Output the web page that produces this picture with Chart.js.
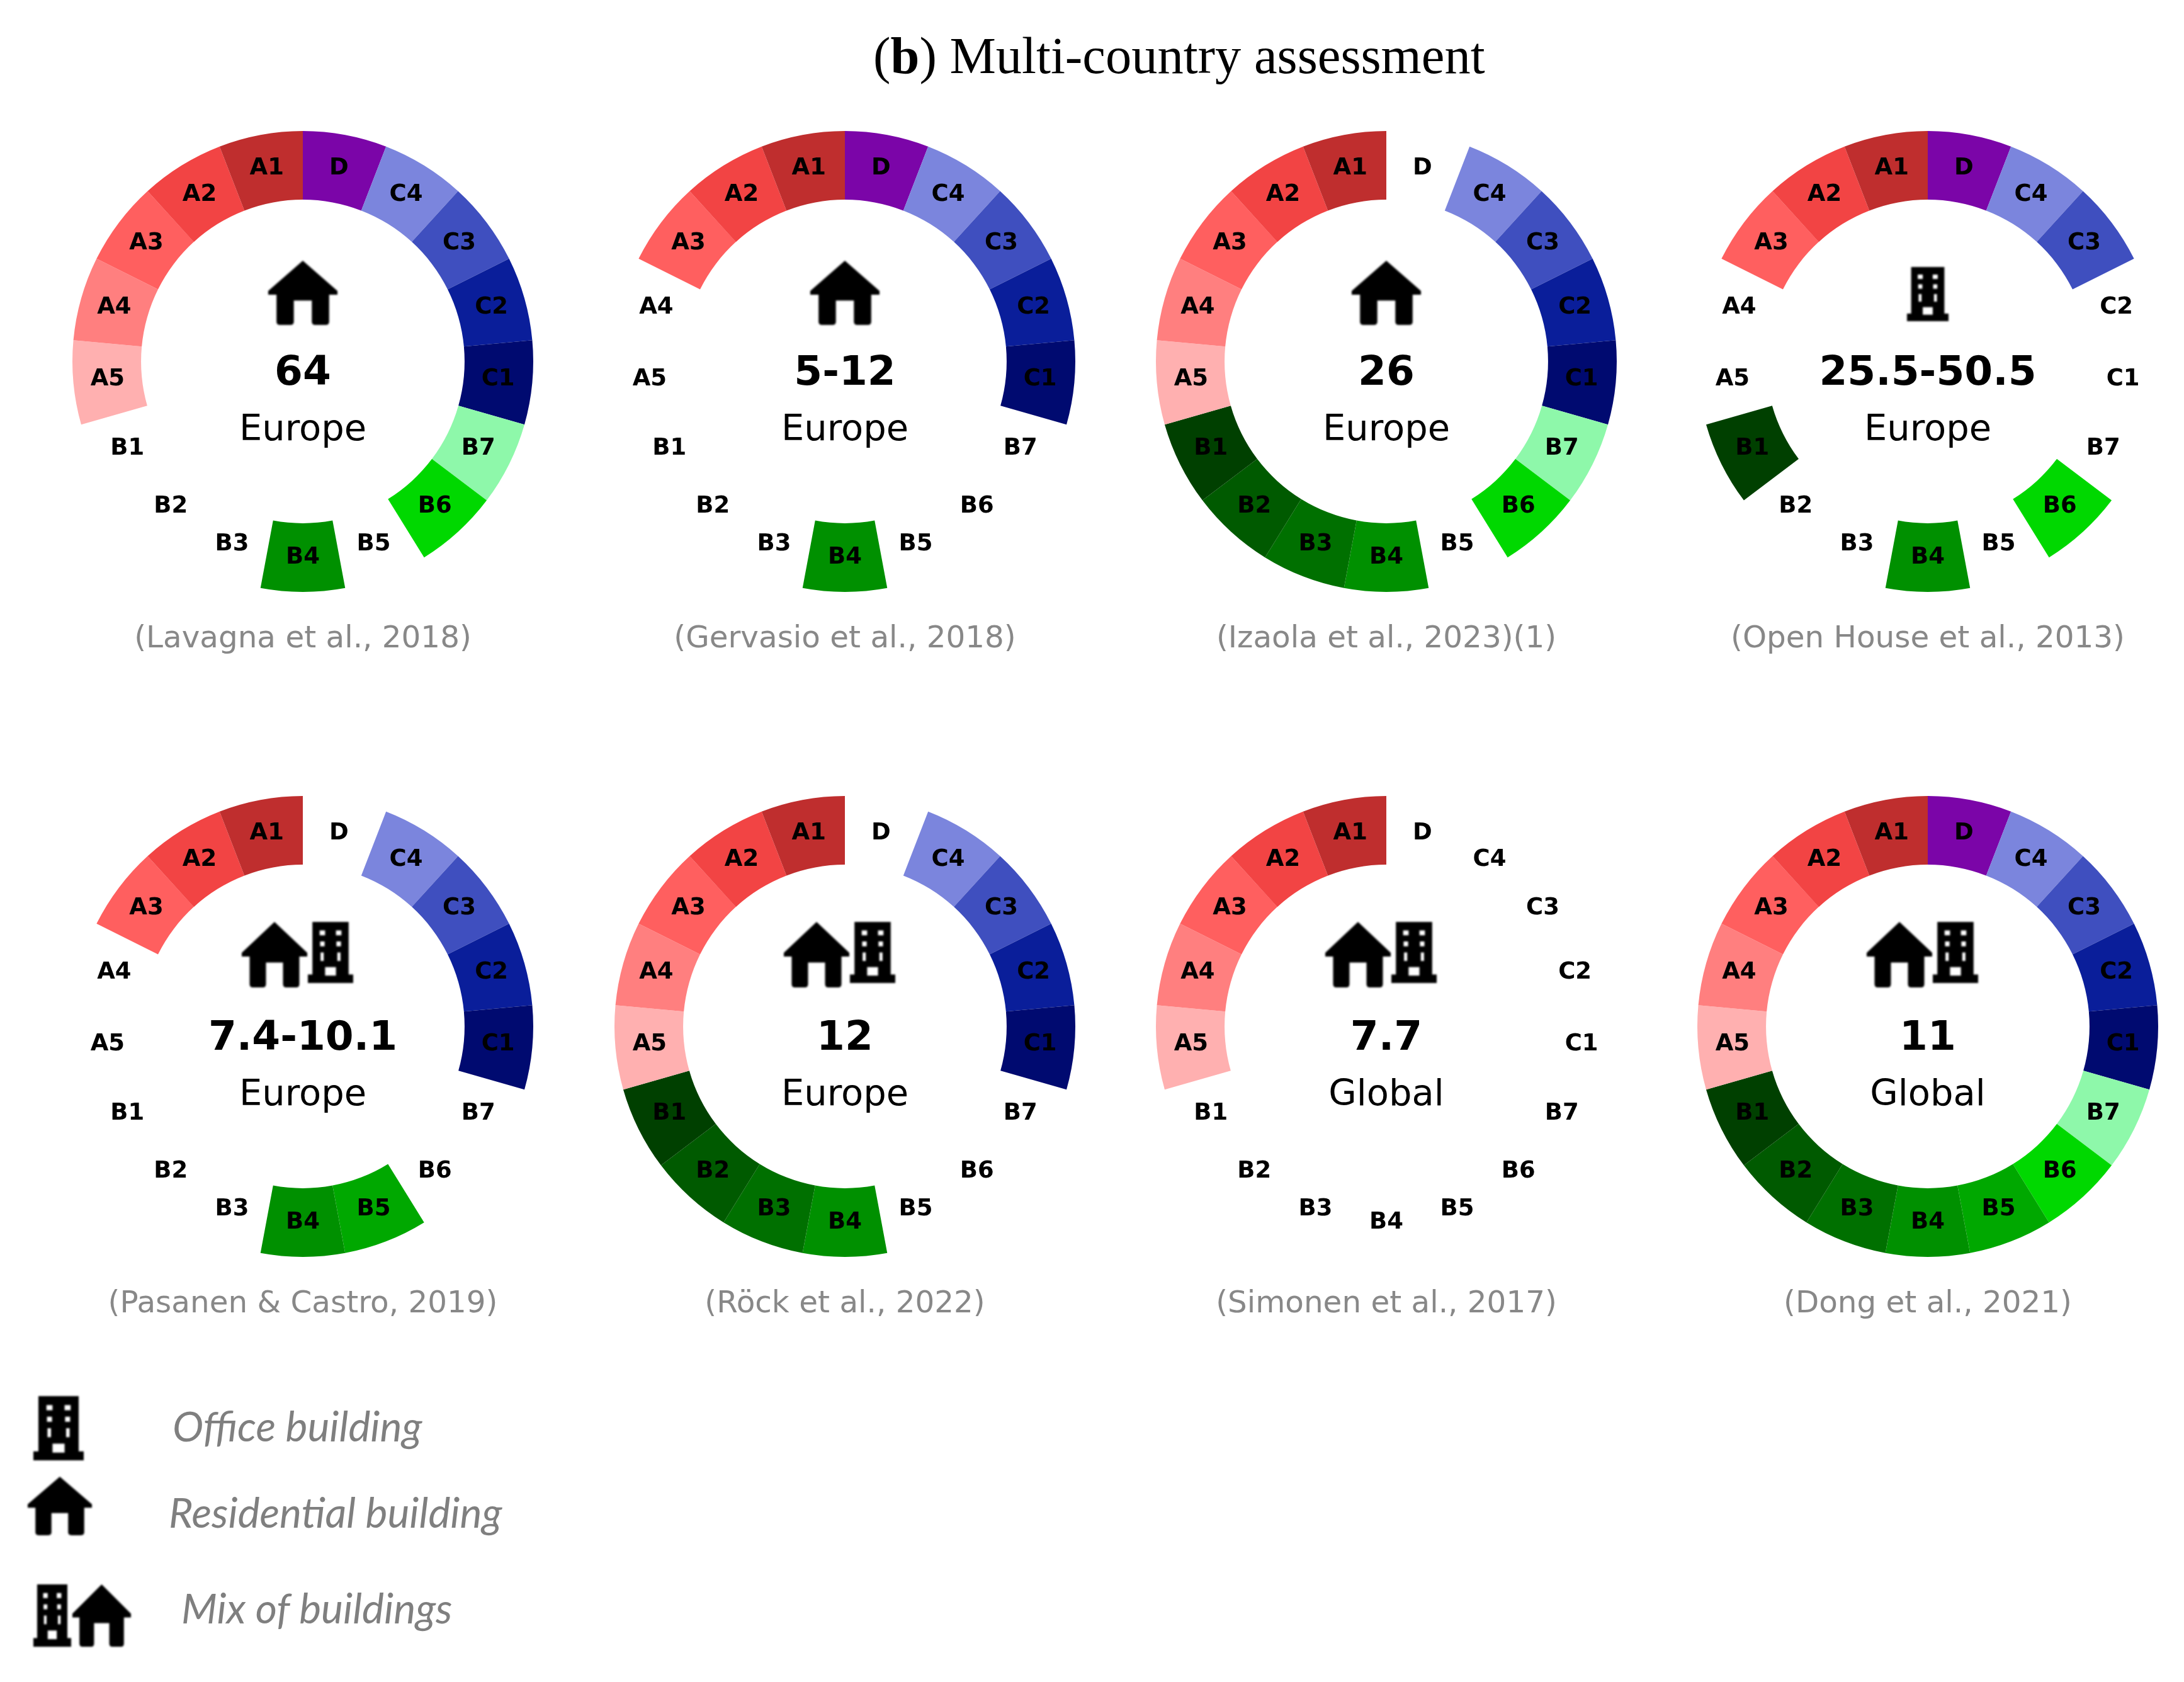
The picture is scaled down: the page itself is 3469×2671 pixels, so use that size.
<!DOCTYPE html>
<html><head><meta charset="utf-8">
<script src="https://cdn.jsdelivr.net/npm/chart.js@4"></script>
<style>
html,body{margin:0;padding:0;background:#fff;width:3469px;height:2671px;overflow:hidden}
#page{position:relative;width:3469px;height:2671px}
canvas{position:absolute}
.t{position:absolute;white-space:nowrap}
#title{left:1387px;top:40px;font:82.5px "Liberation Serif",serif;color:#000}
.lg{font:italic 66px Lato,sans-serif;color:#7f7f7f}
svg{position:absolute;filter:blur(1.6px)}
</style></head><body><div id="page">
<div class="t" id="title">(<b>b</b>) Multi-country assessment</div>
<div class="t lg" style="left:274px;top:2224px">Office building</div>
<div class="t lg" style="left:268px;top:2361px">Residential building</div>
<div class="t lg" style="left:288px;top:2513px">Mix of buildings</div>
</div>
<script>
// Life-cycle stages, clockwise from twelve o'clock
const stages = ['D','C4','C3','C2','C1','B7','B6','B5','B4','B3','B2','B1','A5','A4','A3','A2','A1'];
const stageColors = ['#7b05a8','#7b85dd','#3f4fbf','#0a1e9a','#000a70','#8ef8aa','#00d800','#00a800','#009000','#007000','#005a00','#004000','#ffb0b0','#ff7f7f','#ff5f5f','#f24444','#bf2e2e'];
const stageShare = [1,1,1,1,1,1,1,1,1,1,1,1,1,1,1,1,1];

const studyNames = ['(Lavagna et al., 2018)','(Gervasio et al., 2018)','(Izaola et al., 2023)(1)','(Open House et al., 2013)','(Pasanen & Castro, 2019)','(Röck et al., 2022)','(Simonen et al., 2017)','(Dong et al., 2021)'];
const studyValues = ['64','5-12','26','25.5-50.5','7.4-10.1','12','7.7','11'];
const studyRegions = ['Europe','Europe','Europe','Europe','Europe','Europe','Global','Global'];
const studyBuildings = ['house','house','house','office','mix','mix','mix','mix'];

const coveredLavagna = ['D','C4','C3','C2','C1','B7','B6','B4','A5','A4','A3','A2','A1'];
const coveredGervasio = ['D','C4','C3','C2','C1','B4','A3','A2','A1'];
const coveredIzaola = ['C4','C3','C2','C1','B7','B6','B4','B3','B2','B1','A5','A4','A3','A2','A1'];
const coveredOpenHouse = ['D','C4','C3','B6','B4','B1','A3','A2','A1'];
const coveredPasanen = ['C4','C3','C2','C1','B5','B4','A3','A2','A1'];
const coveredRock = ['C4','C3','C2','C1','B4','B3','B2','B1','A5','A4','A3','A2','A1'];
const coveredSimonen = ['A5','A4','A3','A2','A1'];
const coveredDong = ['D','C4','C3','C2','C1','B7','B6','B5','B4','B3','B2','B1','A5','A4','A3','A2','A1'];
const studyCovered = [coveredLavagna,coveredGervasio,coveredIzaola,coveredOpenHouse,coveredPasanen,coveredRock,coveredSimonen,coveredDong];

const columnX = [481,1342,2202,3062];
const rowY = [574,1630];
const R = 366, HALF = 450, H = 1000;
const cutoutShare = '70.2%';

const housePath = 'M50 0 L100 47 L100 53 L88 53 L88 95 Q88 100 83 100 L68 100 Q63 100 63 95 L63 62 L37 62 L37 95 Q37 100 32 100 L17 100 Q12 100 12 95 L12 53 L0 53 L0 47 Z';
const officePath = 'M10 0 L90 0 L90 86 L100 86 L100 100 L0 100 L0 86 L10 86 Z M26 14 L26 22 L38 22 L38 14 Z M62 14 L62 22 L74 22 L74 14 Z M27 32 L27 40 L37 40 L37 32 Z M63 32 L63 40 L73 40 L73 32 Z M28 50 L28 64 L35 64 L35 50 Z M65 50 L65 64 L72 64 L72 50 Z M38 74 L38 88 L62 88 L62 74 Z';

function icon(ctx, d, x, y, w, h){
  ctx.save();
  ctx.filter = 'blur(1.4px)';
  ctx.translate(x,y); ctx.scale(w/100,h/100);
  ctx.fillStyle = '#000';
  ctx.fill(new Path2D(d),'evenodd');
  ctx.restore();
}

const ringText = {
  id:'ringText',
  afterDraw(chart, args, o){
    const ctx = chart.ctx, arcs = chart.getDatasetMeta(0).data;
    const cx = arcs[0].x, cy = arcs[0].y;
    ctx.save();
    ctx.fillStyle = '#000';
    ctx.textAlign = 'center';
    ctx.textBaseline = 'middle';
    ctx.font = 'bold 37px "DejaVu Sans"';
    arcs.forEach((a,i)=>{ const p = a.tooltipPosition(); ctx.fillText(stages[i], p.x, p.y); });
    ctx.textBaseline = 'alphabetic';
    ctx.font = 'bold 64.5px "DejaVu Sans"';
    ctx.fillText(o.value, cx, cy+37);
    ctx.font = '57.5px "DejaVu Sans"';
    ctx.fillText(o.region, cx, cy+125);
    ctx.fillStyle = '#888888';
    ctx.font = '48.4px "DejaVu Sans"';
    ctx.fillText(o.citation, cx, cy+454);
    ctx.restore();
    if(o.building==='house') icon(ctx,housePath,cx-55,cy-160,110,102);
    if(o.building==='office') icon(ctx,officePath,cx-33,cy-150,66,86);
    if(o.building==='mix'){ icon(ctx,housePath,cx-97,cy-166,104,104); icon(ctx,officePath,cx+8,cy-166,72,97); }
  }
};

studyNames.forEach((name,i)=>{
  const cx = columnX[i%4], cy = rowY[Math.floor(i/4)];
  const c = document.createElement('canvas');
  c.width = HALF*2; c.height = H;
  c.style.left = (cx-HALF)+'px'; c.style.top = (cy-HALF)+'px';
  document.getElementById('page').appendChild(c);
  new Chart(c,{
    type:'doughnut',
    data:{labels:stages,datasets:[{
      data:stageShare,
      backgroundColor:stages.map((s,k)=>studyCovered[i].includes(s)?stageColors[k]:'rgba(255,255,255,0)'),
      borderWidth:0,
      radius:R,
      cutout:cutoutShare
    }]},
    options:{
      responsive:false,animation:false,rotation:0,circumference:360,
      layout:{padding:{bottom:H-2*HALF}},
      plugins:{legend:{display:false},tooltip:{enabled:false},
        ringText:{value:studyValues[i],region:studyRegions[i],citation:name,building:studyBuildings[i]}}
    },
    plugins:[ringText]
  });
});

function svgIcon(d,x,y,w,h){
  const s = document.createElementNS('http://www.w3.org/2000/svg','svg');
  s.setAttribute('viewBox','0 0 100 100'); s.setAttribute('preserveAspectRatio','none');
  s.style.cssText = `left:${x}px;top:${y}px;width:${w}px;height:${h}px`;
  const p = document.createElementNS('http://www.w3.org/2000/svg','path');
  p.setAttribute('d',d); p.setAttribute('fill-rule','evenodd');
  s.appendChild(p); document.getElementById('page').appendChild(s);
}
svgIcon(officePath,53,2217,80,102);
svgIcon(housePath,44,2345,102,93);
svgIcon(officePath,53,2516,60,99);
svgIcon(housePath,115,2516,93,99);
</script></body></html>
